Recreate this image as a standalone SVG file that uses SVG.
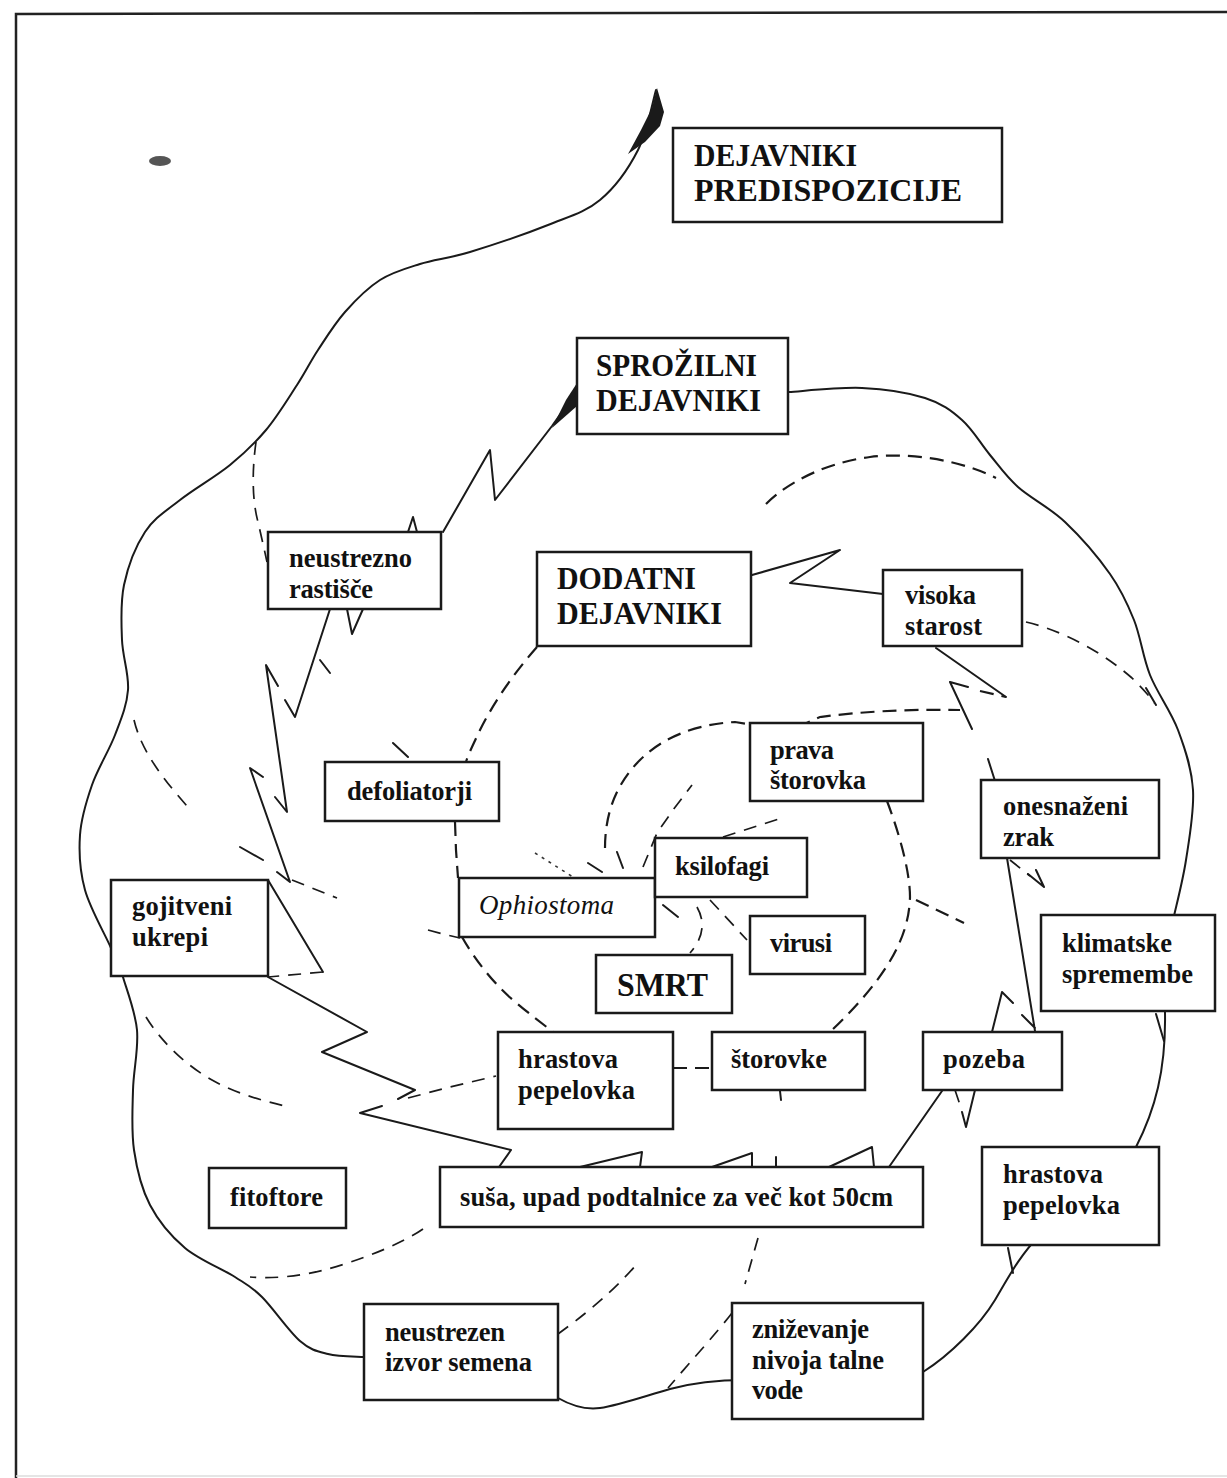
<svg xmlns="http://www.w3.org/2000/svg" width="1227" height="1478" viewBox="0 0 1227 1478">
<style>
.box{fill:#fff;stroke:#1a1a1a;stroke-width:2.5}
.t{font-family:"Liberation Serif","Times New Roman",serif;font-weight:bold;font-size:26.5px;fill:#111}
.big{font-size:31px}
.it{font-style:italic;font-weight:normal;font-size:27px}
.s{fill:none;stroke:#1a1a1a;stroke-width:2;stroke-linejoin:round;stroke-linecap:round}
.d{fill:none;stroke:#1a1a1a;stroke-width:1.7;stroke-dasharray:13 9;stroke-linecap:butt}
.dk{fill:none;stroke:#1a1a1a;stroke-width:2.2;stroke-dasharray:14 8}
.dt{fill:none;stroke:#333;stroke-width:1.6;stroke-dasharray:3 5}
.w{fill:#1a1a1a}
</style>
<rect x="0" y="0" width="1227" height="1478" fill="#fff"/>
<g id="frame">
<path d="M16,1478 V14 L1227,12" fill="none" stroke="#222" stroke-width="2.5"/>
<path d="M16,1476 H1227" fill="none" stroke="#ddd" stroke-width="1.5"/>
<ellipse cx="160" cy="161" rx="11" ry="5" fill="#555"/>
</g>
<g id="connectors">
<!-- outer solid spiral, in pieces (boxes hide the joins) -->
<path class="s" d="M656,90 C653,100 647.3,131.7 638,150 C628.7,168.3 615,187.5 600,200 C585,212.5 569.7,216.3 548,225 C526.3,233.7 491.3,245.5 470,252 C448.7,258.5 435,259.3 420,264 C405,268.7 392.5,272 380,280 C367.5,288 355.3,300.3 345,312 C334.7,323.7 326,337.8 318,350 C310,362.2 305.7,371.7 297,385 C288.3,398.3 277.2,416.7 266,430 C254.8,443.3 244.3,453.3 230,465 C215.7,476.7 194.2,488.8 180,500 C165.8,511.2 154.3,517.8 145,532 C135.7,546.2 127.8,567 124,585 C120.2,603 121.3,622.5 122,640 C122.7,657.5 129.2,674.2 128,690 C126.8,705.8 121,719.2 115,735 C109,750.8 97.8,768.3 92,785 C86.2,801.7 81.2,817.5 80,835 C78.8,852.5 79.8,871.2 85,890 C90.2,908.8 104.7,933.5 111,948 L120,968"/>
<path class="s" d="M118,965 L123,977 C125.3,985.8 135.3,1011.2 137,1030 C138.7,1048.8 133.5,1070 133,1090 C132.5,1110 131.2,1130.8 134,1150 C136.8,1169.2 141.5,1188.7 150,1205 C158.5,1221.3 170.8,1236 185,1248 C199.2,1260 222.2,1268.8 235,1277 C247.8,1285.2 251.2,1286.3 262,1297 C272.8,1307.7 289,1331.5 300,1341 C311,1350.5 317.3,1351.3 328,1354 C338.7,1356.7 358,1356.5 364,1357 L380,1360"/>
<path class="s" d="M545,1394 L558,1398 C572,1406 585,1410 600,1408 C620,1405 648,1395 670,1389 C692,1383 715,1380 745,1380"/>
<path class="s" d="M910,1380 L923,1372 C950,1355 980,1325 995,1300 C1008,1278 1020,1255 1040,1235"/>
<path class="s" d="M1130,1158 L1136,1147 C1155,1110 1166,1070 1165,1013 L1165,1000"/>
<path class="s" d="M1172,930 L1174,916 C1176,906.7 1182.8,881 1186,860 C1189.2,839 1194.3,811.7 1193,790 C1191.7,768.3 1185.2,749.2 1178,730 C1170.8,710.8 1157.3,693.3 1150,675 C1142.7,656.7 1140.7,636.8 1134,620 C1127.3,603.2 1121.5,590.3 1110,574 C1098.5,557.7 1080.3,536.5 1065,522 C1049.7,507.5 1030.5,498.2 1018,487 C1005.5,475.8 999.3,466.2 990,455 C980.7,443.8 972.8,429.5 962,420 C951.2,410.5 941.7,403.3 925,398 C908.3,392.7 884.7,389 862,388 C839.3,387 801.2,391.3 789,392 L775,393"/>
<polygon class="w" points="657,88 664,112 660,126 645,142 628,154 641,130 652,108"/>
<polygon class="w" points="577,383 577,406 552,428 566,400"/>
<!-- solid zigzag spiral -->
<path class="s" d="M443,532 L490,450 L495,500 L552,426 L576,392"/>
<path class="s" d="M330,609 L295,717 L285,700 M278,686 L266,665 L287,812 L275,797 M263,777 L250,768 L290,882 L277,872 M263,860 L240,847"/>
<path class="s" d="M268,880 L323,972"/>
<path class="d" d="M323,972 L268,977"/>
<path class="s" d="M268,977 L367,1032 L322,1052 L415,1090 L398,1099 M382,1106 L360,1113 L511,1150 L499,1167"/>
<path class="s" d="M580,1167 L642,1152 L640,1167 M712,1167 L752,1153 L752,1167 M829,1167 L872,1147 L874,1167"/>
<path class="s" d="M889,1167 L942,1091"/>
<path class="s" d="M992,1032 L1002,992 L1013,1003 M1022,1015 L1035,1028 M1035,1031 L1007,858"/>
<path class="s" d="M995,781 L988,759 M972,729 L950,682 L968,687 M1006,697 L936,648"/>
<path class="dk" d="M980,691 L1006,697"/>
<path class="s" d="M883,594 L790,583 L840,550 L752,575"/>
<path class="s" d="M408,532 L413,517 L417,532 M347,609 L352,634 L363,609 M320,660 L330,673"/>
<path class="s" d="M962,1112 L966,1127 L975,1090 M1028,874 L1044,887 L1036,870"/>
<path class="d" d="M955,1090 L961,1108 M1010,860 L1030,876"/>
<path class="s" d="M1156,1014 L1164,1041 M1008,1248 L1013,1273 M1146,688 L1156,705 M776,1157 L776,1167 M780,1091 L781,1100"/>
<!-- dashed arms -->
<path class="d" d="M256,442 C252,470 252,500 258,522 C261,535 264,548 267,562"/>
<path class="d" d="M134,720 C140,745 155,770 187,806"/>
<path class="d" d="M292,880 L337,898"/>
<path class="d" d="M428,930 L447,935 L460,938"/>
<path class="d" d="M146,1017 C160,1040 185,1065 212,1080 C235,1093 260,1100 285,1106"/>
<path class="d" d="M408,1098 L450,1087 L496,1076"/>
<path class="d" d="M423,1229 C400,1245 355,1262 324,1270 C300,1276 275,1279 250,1277"/>
<path class="d" d="M558,1334 C580,1318 610,1295 636,1265"/>
<path class="d" d="M758,1238 L745,1284"/>
<path class="d" d="M732,1313 C715,1335 690,1362 668,1388"/>
<path class="d" d="M1026,622 C1060,630 1100,650 1132,678 C1140,686 1148,694 1154,703"/>
<path class="dk" d="M766,504 C790,480 830,462 870,457 C910,452 960,460 996,478"/>
<path class="dk" d="M537,647 C515,672 495,700 480,730 C473,745 468,755 466,762"/>
<path class="dk" d="M455,822 L456,850 L458,878"/>
<path class="dk" d="M462,937 C475,960 495,985 513,1000 C528,1013 543,1024 553,1032"/>
<path class="dk" d="M673,1068 L712,1068"/>
<path class="dk" d="M887,801 C898,830 910,870 910,897 C909,935 890,975 830,1032"/>
<path class="dk" d="M916,900 L964,923"/>
<path class="dk" d="M605,848 C605,815 615,785 640,760 C665,735 700,724 735,722 L760,726 L800,726 L820,717 C860,712 900,709 960,710"/>
<path class="d" d="M643,867 L657,833 L673,810 L692,785"/>
<path class="d" d="M723,837 L785,817"/>
<path class="dt" d="M535,853 L573,877"/>
<path class="s" d="M588,863 L602,872 M617,852 L623,868 M663,905 L678,917 M393,743 L408,757" stroke-width="1.6"/>
<path class="d" d="M697,907 Q710,930 690,953"/>
<path class="d" d="M710,900 L747,940"/>
</g>
<g id="n1"><rect class="box" x="673" y="128" width="329" height="94"/><text class="t big" x="694" y="166" textLength="163" lengthAdjust="spacingAndGlyphs">DEJAVNIKI</text><text class="t big" x="694" y="201" textLength="268" lengthAdjust="spacingAndGlyphs">PREDISPOZICIJE</text></g>
<g id="n2"><rect class="box" x="577" y="338" width="211" height="96"/><text class="t big" x="596" y="376" textLength="161" lengthAdjust="spacingAndGlyphs">SPROŽILNI</text><text class="t big" x="596" y="411" textLength="165" lengthAdjust="spacingAndGlyphs">DEJAVNIKI</text></g>
<g id="n3"><rect class="box" x="537" y="552" width="214" height="94"/><text class="t big" x="557" y="589" textLength="139" lengthAdjust="spacingAndGlyphs">DODATNI</text><text class="t big" x="557" y="624" textLength="165" lengthAdjust="spacingAndGlyphs">DEJAVNIKI</text></g>
<g id="n4"><rect class="box" x="268" y="532" width="173" height="77"/><text class="t" x="289" y="567" textLength="123">neustrezno</text><text class="t" x="289" y="598" textLength="84">rastišče</text></g>
<g id="n5"><rect class="box" x="883" y="570" width="139" height="76"/><text class="t" x="905" y="604" textLength="71">visoka</text><text class="t" x="905" y="635" textLength="77">starost</text></g>
<g id="n6"><rect class="box" x="750" y="723" width="173" height="78"/><text class="t" x="770" y="759" textLength="64">prava</text><text class="t" x="770" y="789" textLength="96">štorovka</text></g>
<g id="n7"><rect class="box" x="981" y="780" width="178" height="78"/><text class="t" x="1003" y="815" textLength="125">onesnaženi</text><text class="t" x="1003" y="846" textLength="51">zrak</text></g>
<g id="n8"><rect class="box" x="1041" y="915" width="174" height="96"/><text class="t" x="1062" y="952" textLength="110">klimatske</text><text class="t" x="1062" y="983" textLength="131">spremembe</text></g>
<g id="n9"><rect class="box" x="325" y="762" width="174" height="59"/><text class="t" x="347" y="800" textLength="125">defoliatorji</text></g>
<g id="n10"><rect class="box" x="459" y="878" width="196" height="59"/><text class="t it" x="479" y="914" textLength="135">Ophiostoma</text></g>
<g id="n11"><rect class="box" x="655" y="838" width="152" height="59"/><text class="t" x="675" y="875" textLength="94">ksilofagi</text></g>
<g id="n12"><rect class="box" x="750" y="916" width="115" height="58"/><text class="t" x="770" y="952" textLength="62">virusi</text></g>
<g id="n13"><rect class="box" x="596" y="955" width="136" height="58"/><text class="t" x="617" y="996" style="font-size:33px" textLength="91" lengthAdjust="spacingAndGlyphs">SMRT</text></g>
<g id="n14"><rect class="box" x="498" y="1032" width="175" height="97"/><text class="t" x="518" y="1068" textLength="100">hrastova</text><text class="t" x="518" y="1099" textLength="117">pepelovka</text></g>
<g id="n15"><rect class="box" x="712" y="1032" width="153" height="58"/><text class="t" x="731" y="1068" textLength="96">štorovke</text></g>
<g id="n16"><rect class="box" x="923" y="1032" width="139" height="58"/><text class="t" x="943" y="1068" textLength="82">pozeba</text></g>
<g id="n17"><rect class="box" x="982" y="1147" width="177" height="98"/><text class="t" x="1003" y="1183" textLength="100">hrastova</text><text class="t" x="1003" y="1214" textLength="117">pepelovka</text></g>
<g id="n18"><rect class="box" x="111" y="880" width="157" height="96"/><text class="t" x="132" y="915" textLength="100">gojitveni</text><text class="t" x="132" y="946" textLength="76">ukrepi</text></g>
<g id="n19"><rect class="box" x="209" y="1168" width="137" height="60"/><text class="t" x="230" y="1206" textLength="93">fitoftore</text></g>
<g id="n20"><rect class="box" x="440" y="1167" width="483" height="60"/><text class="t" x="460" y="1206" textLength="433">suša, upad podtalnice za več kot 50cm</text></g>
<g id="n21"><rect class="box" x="364" y="1304" width="194" height="96"/><text class="t" x="385" y="1341" textLength="120">neustrezen</text><text class="t" x="385" y="1371" textLength="147">izvor semena</text></g>
<g id="n22"><rect class="box" x="732" y="1303" width="191" height="116"/><text class="t" x="752" y="1338" textLength="117">zniževanje</text><text class="t" x="752" y="1369" textLength="132">nivoja talne</text><text class="t" x="752" y="1399" textLength="51">vode</text></g>
</svg>
